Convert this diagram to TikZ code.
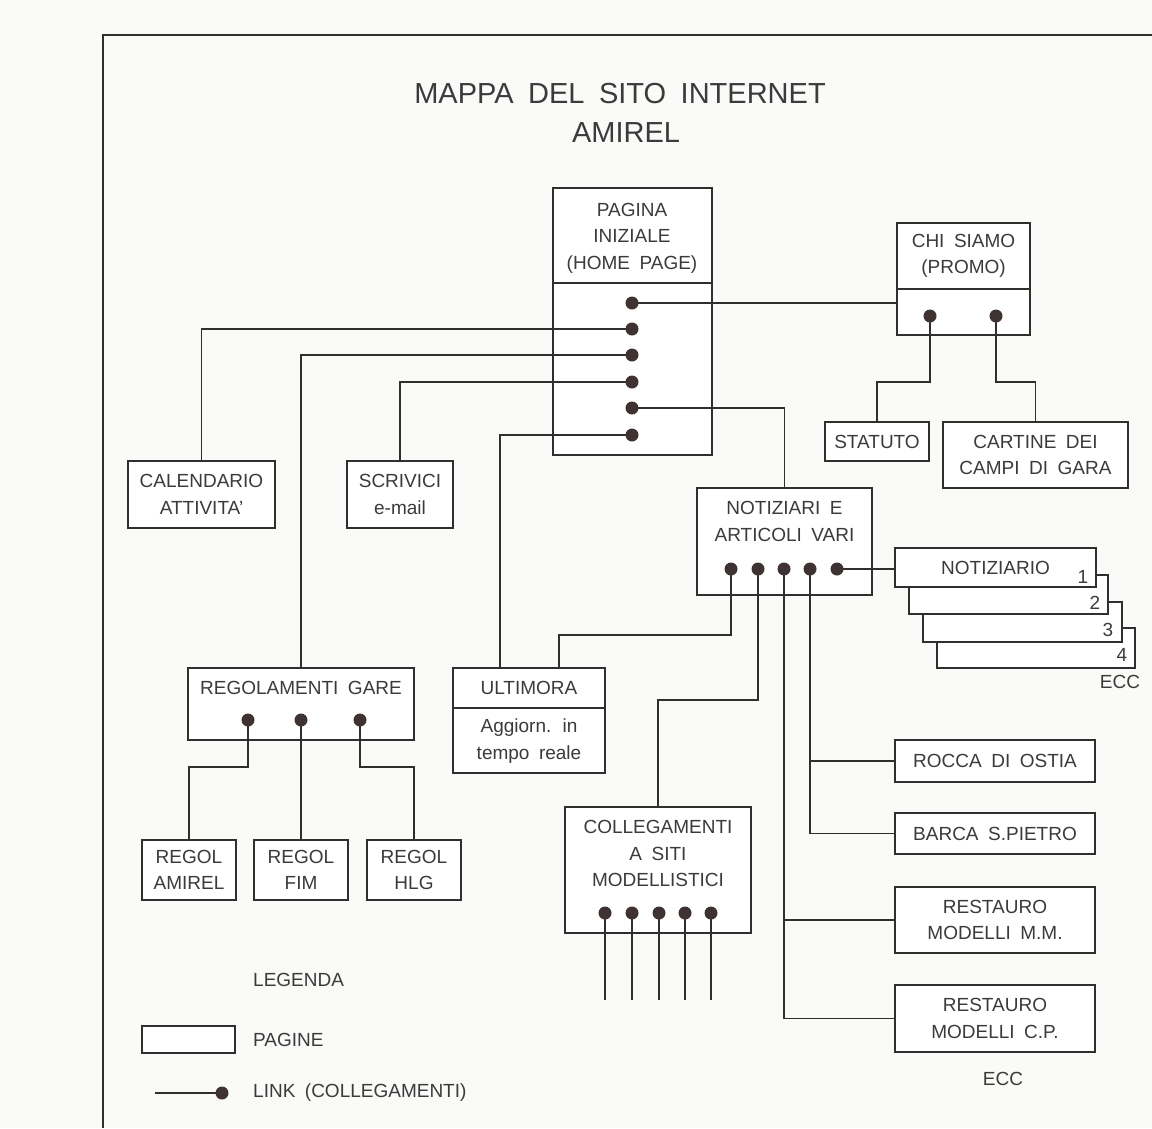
\documentclass[tikz,border=0pt]{standalone}
\usepackage{fontspec}
\setmainfont[WordSpace=1.8]{Liberation Sans}
\usetikzlibrary{calc}
\definecolor{ink}{RGB}{50,46,46}
\definecolor{txt}{RGB}{60,58,58}
\definecolor{dotc}{RGB}{62,50,50}
\definecolor{paper}{RGB}{250,250,248}
\begin{document}
\begin{tikzpicture}[x=1pt,y=-1pt,
  pagebox/.style={draw=ink, line width=2.6pt, fill=white, rectangle, inner sep=0pt, outer sep=0pt},
  sheet/.style={draw=ink, line width=1.3pt, fill=white},
  lnk/.style={draw=ink, line width=1.1pt},
  divline/.style={draw=ink, line width=1.1pt},
  dot/.style={circle, fill=dotc, inner sep=0pt, outer sep=0pt, minimum size=13pt},
  lbl/.style={text=txt, font=\fontsize{19}{26.5}\selectfont, align=center, inner sep=0pt},
  ttl/.style={text=txt, font=\fontsize{29}{38}\selectfont, align=center, inner sep=0pt}]
\useasboundingbox (0,0) rectangle (1152,1128);
\fill[paper] (0,0) rectangle (1152,1128);

% outer frame
\draw[ink, line width=2.6pt] (103,1128) -- (103,35) -- (1152,35);

% title
\node[ttl] (t1) at (620,94) {MAPPA DEL SITO INTERNET};
\node[ttl] (t2) at (626,133) {AMIREL};

% ---------- boxes ----------
\node[pagebox, minimum width=159pt, minimum height=267pt] (home) at (632.5,321.5) {};
\node[pagebox, minimum width=133pt, minimum height=112pt] (chi) at (963.5,279) {};
\node[pagebox, minimum width=104pt, minimum height=39pt] (stat) at (877,441.5) {};
\node[pagebox, minimum width=185pt, minimum height=66pt] (cart) at (1035.5,455) {};
\node[pagebox, minimum width=147pt, minimum height=67pt] (cal) at (201.5,494.5) {};
\node[pagebox, minimum width=106pt, minimum height=67pt] (scr) at (400,494.5) {};
\node[pagebox, minimum width=175pt, minimum height=107pt] (nart) at (784.5,541.5) {};

% notiziario stack
\draw[sheet] (937,628) rectangle (1135,668);
\draw[sheet] (923,602) rectangle (1122,642);
\draw[sheet] (909,575) rectangle (1108,614);
\node[pagebox, minimum width=201pt, minimum height=39pt] (notiz) at (995.5,567.5) {};

\node[pagebox, minimum width=226pt, minimum height=72pt] (rg) at (301,704) {};
\node[pagebox, minimum width=152pt, minimum height=105pt] (ult) at (529,720.5) {};
\node[pagebox, minimum width=94pt, minimum height=60pt] (ram) at (189,870) {};
\node[pagebox, minimum width=94pt, minimum height=60pt] (fim) at (301,870) {};
\node[pagebox, minimum width=94pt, minimum height=60pt] (hlg) at (414,870) {};
\node[pagebox, minimum width=186pt, minimum height=126pt] (coll) at (658,870) {};
\node[pagebox, minimum width=200pt, minimum height=42pt] (rocca) at (995,761) {};
\node[pagebox, minimum width=200pt, minimum height=41pt] (barca) at (995,833.5) {};
\node[pagebox, minimum width=200pt, minimum height=66pt] (rmm) at (995,920) {};
\node[pagebox, minimum width=200pt, minimum height=67pt] (rcp) at (995,1018.5) {};
\node[pagebox, minimum width=93pt, minimum height=27pt] (leg) at (188.5,1039.5) {};

% dividers
\draw[divline] ($(home.north west)+(0,95)$) -- ($(home.north east)+(0,95)$);
\draw[divline] ($(chi.north west)+(0,66)$) -- ($(chi.north east)+(0,66)$);
\draw[divline] ($(ult.north west)+(0,40)$) -- ($(ult.north east)+(0,40)$);

% ---------- texts ----------
\node[lbl] at (632,238) {PAGINA\\INIZIALE\\(HOME PAGE)};
\node[lbl] at (963.5,256) {CHI SIAMO\\(PROMO)};
\node[lbl] at (stat) {STATUTO};
\node[lbl] at (cart) {CARTINE DEI\\CAMPI DI GARA};
\node[lbl] at (cal) {CALENDARIO\\ATTIVITA'};
\node[lbl] at (scr) {SCRIVICI\\e-mail};
\node[lbl] at (784.5,521.5) {NOTIZIARI E\\ARTICOLI VARI};
\node[lbl] at (notiz) {NOTIZIARIO};
\node[lbl] at (1083,577) {1};
\node[lbl] at (1095,603) {2};
\node[lbl] at (1108,630) {3};
\node[lbl] at (1122,655) {4};
\node[lbl] at (1120,682) {ECC};
\node[lbl] at (301,688) {REGOLAMENTI GARE};
\node[lbl] at (529,688) {ULTIMORA};
\node[lbl] at (529,741) {Aggiorn. in\\tempo reale};
\node[lbl] at (ram) {REGOL\\AMIREL};
\node[lbl] at (fim) {REGOL\\FIM};
\node[lbl] at (hlg) {REGOL\\HLG};
\node[lbl] at (658,853.5) {COLLEGAMENTI\\A SITI\\MODELLISTICI};
\node[lbl] at (rocca) {ROCCA DI OSTIA};
\node[lbl] at (barca) {BARCA S.PIETRO};
\node[lbl] at (rmm) {RESTAURO\\MODELLI M.M.};
\node[lbl] at (rcp) {RESTAURO\\MODELLI C.P.};
\node[lbl] at (1003,1079) {ECC};
\node[lbl, anchor=west] at (253,980) {LEGENDA};
\node[lbl, anchor=west] at (253,1040) {PAGINE};
\node[lbl, anchor=west] at (253,1093) {LINK (COLLEGAMENTI)};

% ---------- link points ----------
\coordinate (h1) at (632,303);
\coordinate (h2) at (632,329);
\coordinate (h3) at (632,355);
\coordinate (h4) at (632,382);
\coordinate (h5) at (632,408);
\coordinate (h6) at (632,435);
\coordinate (c1) at (930,316);
\coordinate (c2) at (996,316);
\coordinate (n1) at (731,569);
\coordinate (n2) at (758,569);
\coordinate (n3) at (784,569);
\coordinate (n4) at (810,569);
\coordinate (n5) at (837,569);
\coordinate (r1) at (248,720);
\coordinate (r2) at (301,720);
\coordinate (r3) at (360,720);
\coordinate (k1) at (605,913);
\coordinate (k2) at (632,913);
\coordinate (k3) at (659,913);
\coordinate (k4) at (685,913);
\coordinate (k5) at (711,913);
\coordinate (lg) at (222,1093);
\coordinate (lgs) at (155,1093);

% ---------- connectors ----------
\draw[lnk] (h1) -- (h1 -| chi.west);
\draw[lnk] (h2) -| (cal.north);
\draw[lnk] (h3) -| (rg.north);
\draw[lnk] (h4) -| (scr.north);
\draw[lnk] (h5) -| (nart.north);
\draw[lnk] (h6) -| ([xshift=-29pt]ult.north);
\draw[lnk] (c1) -- ++(0,66) -| (stat.north);
\draw[lnk] (c2) -- ++(0,66) -| (cart.north);
\draw[lnk] (n1) -- ++(0,66) -| ([xshift=-46pt]ult.north east);
\draw[lnk] (n2) -- ++(0,131) -| (coll.north);
\draw[lnk] (n3) |- (rcp.west);
\draw[lnk] (n3 |- rmm.west) -- (rmm.west);
\draw[lnk] (n4) |- (barca.west);
\draw[lnk] (n4 |- rocca.west) -- (rocca.west);
\draw[lnk] (n5) -- (n5 -| notiz.west);
\draw[lnk] (r1) -- ++(0,47) -| (ram.north);
\draw[lnk] (r2) -- (fim.north);
\draw[lnk] (r3) -- ++(0,47) -| (hlg.north);
\foreach \k in {k1,k2,k3,k4,k5} { \draw[lnk] (\k) -- ++(0,87); }
\draw[lnk] (lgs) -- (lg);

% ---------- dots ----------
\foreach \d in {h1,h2,h3,h4,h5,h6,c1,c2,n1,n2,n3,n4,n5,r1,r2,r3,k1,k2,k3,k4,k5,lg}
  { \node[dot] at (\d) {}; }
\end{tikzpicture}
\end{document}
